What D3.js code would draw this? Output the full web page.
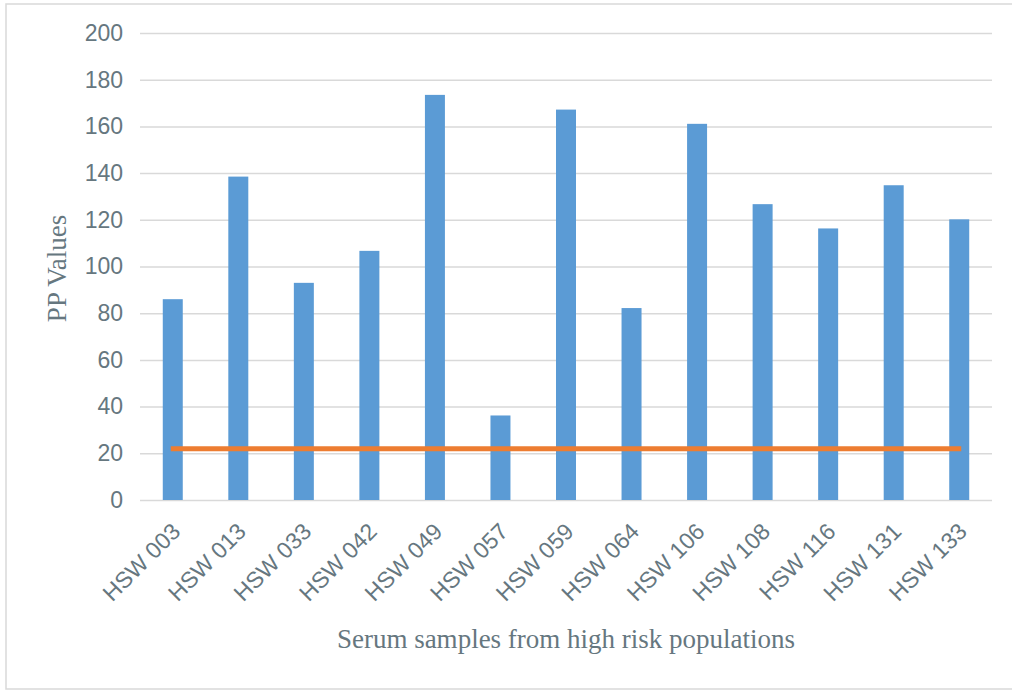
<!DOCTYPE html>
<html>
<head>
<meta charset="utf-8">
<script src="https://cdn.jsdelivr.net/npm/d3@7"></script>
<style>
  html, body { margin: 0; padding: 0; background: #fff; }
  svg { display: block; }
</style>
</head>
<body>
<svg id="chart" width="1012" height="690"></svg>
<script>
const categories = ["HSW 003","HSW 013","HSW 033","HSW 042","HSW 049","HSW 057","HSW 059","HSW 064","HSW 106","HSW 108","HSW 116","HSW 131","HSW 133"];
const ppValues = [86, 138.5, 93, 106.7, 173.5, 36.2, 167.2, 82.2, 161.1, 126.7, 116.3, 134.8, 120.2];
const cutoffValues = [22, 22, 22, 22, 22, 22, 22, 22, 22, 22, 22, 22, 22];
const yTicks = [0, 20, 40, 60, 80, 100, 120, 140, 160, 180, 200];
const yTitle = "PP Values";
const xTitle = "Serum samples from high risk populations";

const svg = d3.select("#chart");
const W = 1012, H = 690;
const plot = { left: 140, right: 992, top: 33, bottom: 500 };
const textColor = "#66777f";
const gridColor = "#d9d9d9";

// outer frame
svg.append("rect")
  .attr("x", 6).attr("y", 4)
  .attr("width", W + 10).attr("height", 685)
  .attr("fill", "#fff")
  .attr("stroke", "#d9d9d9").attr("stroke-width", 1.5);

const x = d3.scaleBand()
  .domain(categories)
  .range([plot.left, plot.right])
  .paddingInner(0.695)
  .paddingOuter(0.3475);

const y = d3.scaleLinear()
  .domain([0, 200])
  .range([plot.bottom, plot.top]);

// gridlines
const yAxis = d3.axisLeft(y).tickValues(yTicks).tickSize(-(plot.right - plot.left)).tickPadding(17);
const gy = svg.append("g")
  .attr("transform", `translate(${plot.left},0)`)
  .call(yAxis);
gy.select(".domain").remove();
gy.selectAll(".tick line").attr("stroke", gridColor).attr("stroke-width", 1.5);
gy.selectAll(".tick text")
  .attr("fill", textColor)
  .style("font-family", "'Liberation Sans', Arial, sans-serif")
  .style("font-size", "23px");

// bars
svg.append("g").selectAll("rect")
  .data(categories)
  .join("rect")
  .attr("x", d => x(d))
  .attr("width", x.bandwidth())
  .attr("y", (d, i) => y(ppValues[i]))
  .attr("height", (d, i) => y(0) - y(ppValues[i]))
  .attr("fill", "#5b9bd5");

// cutoff line
const line = d3.line()
  .x((d, i) => x(categories[i]) + x.bandwidth() / 2 + (i === 0 ? -2 : i === cutoffValues.length - 1 ? 2 : 0))
  .y(d => y(d));
svg.append("path")
  .datum(cutoffValues)
  .attr("d", line)
  .attr("fill", "none")
  .attr("stroke", "#ed7d31")
  .attr("stroke-width", 5);

// x axis labels
const xAxis = d3.axisBottom(x).tickSize(0).tickPadding(0);
const gx = svg.append("g")
  .attr("transform", `translate(0,${plot.bottom})`)
  .call(xAxis);
gx.select(".domain").remove();
gx.selectAll(".tick text")
  .attr("fill", textColor)
  .style("font-family", "'Liberation Sans', Arial, sans-serif")
  .style("font-size", "23px")
  .attr("text-anchor", "end")
  .attr("dy", null)
  .attr("y", 0)
  .attr("transform", "translate(9,33) rotate(-45)");

// axis titles
svg.append("text")
  .attr("transform", `translate(66,${(plot.top + plot.bottom) / 2 + 2}) rotate(-90)`)
  .attr("text-anchor", "middle")
  .attr("fill", textColor)
  .style("font-family", "'Liberation Serif', 'Times New Roman', serif")
  .style("font-size", "27px")
  .text(yTitle);

svg.append("text")
  .attr("x", (plot.left + plot.right) / 2)
  .attr("y", 648)
  .attr("text-anchor", "middle")
  .attr("fill", textColor)
  .style("font-family", "'Liberation Serif', 'Times New Roman', serif")
  .style("font-size", "27px")
  .text(xTitle);
</script>
</body>
</html>
